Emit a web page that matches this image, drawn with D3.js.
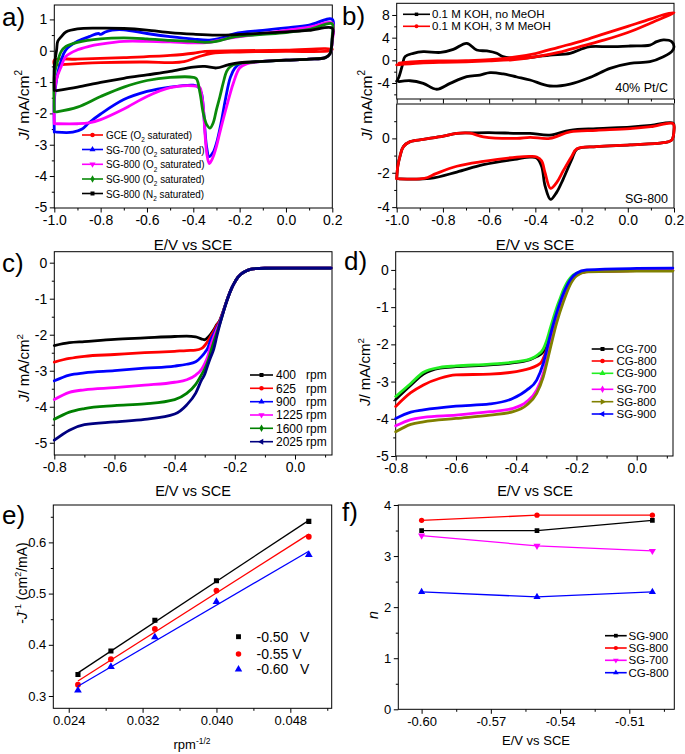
<!DOCTYPE html>
<html><head><meta charset="utf-8">
<script src="https://cdn.jsdelivr.net/npm/d3@7"></script>
<style>
body{margin:0;background:#fff}
svg{display:block;font-family:Arial,"Liberation Sans",sans-serif}
text{white-space:pre}
</style></head><body><svg id="fig" width="685" height="754"></svg>
<script>
// ---------------- DATA ----------------
// Panel a: CV loops [E (V vs SCE), J (mA/cm2)]
const a_GCE = [[-1.0,-0.45],[-1.0,-0.3],[-0.9,-0.27],[-0.7,-0.22],[-0.5,-0.15],[-0.4,-0.08],[-0.35,-0.02],[-0.2,0.0],[0.0,0.02],[0.2,0.05],[0.19,0.0],[0.0,-0.02],[-0.2,-0.04],[-0.32,-0.08],[-0.38,-0.2],[-0.44,-0.35],[-0.5,-0.38],[-0.6,-0.36],[-0.8,-0.38],[-0.99,-0.45]];
const a_SG700 = [[-1.0,-2.6],[-1.0,-1.6],[-0.99,-0.9],[-0.97,-0.3],[-0.95,0.03],[-0.9,0.3],[-0.85,0.45],[-0.81,0.55],[-0.8,0.52],[-0.78,0.6],[-0.75,0.66],[-0.7,0.67],[-0.6,0.55],[-0.5,0.45],[-0.4,0.37],[-0.33,0.34],[-0.28,0.4],[-0.22,0.55],[-0.1,0.65],[0.0,0.73],[0.1,0.82],[0.2,1.0],[0.2,0.4],[0.19,-0.1],[0.17,-0.22],[0.1,-0.27],[0.0,-0.3],[-0.1,-0.34],[-0.2,-0.42],[-0.22,-0.55],[-0.24,-0.85],[-0.26,-1.5],[-0.28,-2.3],[-0.3,-2.95],[-0.315,-3.25],[-0.332,-3.38],[-0.342,-3.1],[-0.35,-2.5],[-0.357,-1.8],[-0.365,-1.35],[-0.38,-1.15],[-0.4,-1.1],[-0.5,-1.16],[-0.6,-1.3],[-0.7,-1.56],[-0.8,-2.02],[-0.85,-2.3],[-0.88,-2.5],[-0.92,-2.6],[-0.99,-2.6]];
const a_SG800 = [[-1.0,-2.33],[-1.0,-1.5],[-0.99,-0.9],[-0.97,-0.5],[-0.95,-0.18],[-0.9,0.03],[-0.85,0.14],[-0.8,0.21],[-0.7,0.3],[-0.6,0.3],[-0.5,0.28],[-0.4,0.25],[-0.33,0.27],[-0.28,0.35],[-0.2,0.45],[-0.1,0.55],[0.0,0.65],[0.1,0.75],[0.2,0.88],[0.2,0.3],[0.19,-0.1],[0.17,-0.22],[0.1,-0.27],[0.0,-0.3],[-0.1,-0.34],[-0.17,-0.42],[-0.2,-0.55],[-0.227,-1.03],[-0.256,-1.78],[-0.285,-2.6],[-0.3,-3.05],[-0.315,-3.4],[-0.331,-3.6],[-0.342,-3.27],[-0.35,-2.6],[-0.357,-1.78],[-0.365,-1.35],[-0.371,-1.18],[-0.4,-1.12],[-0.5,-1.18],[-0.6,-1.46],[-0.7,-1.86],[-0.8,-2.2],[-0.85,-2.3],[-0.9,-2.33],[-0.99,-2.33]];
const a_SG900 = [[-1.0,-1.95],[-1.0,-0.8],[-0.99,-0.45],[-0.97,-0.02],[-0.95,0.14],[-0.9,0.27],[-0.8,0.38],[-0.7,0.41],[-0.6,0.38],[-0.5,0.33],[-0.4,0.3],[-0.35,0.27],[-0.3,0.3],[-0.22,0.45],[-0.1,0.52],[0.0,0.58],[0.1,0.68],[0.2,0.86],[0.2,0.5],[0.19,-0.1],[0.17,-0.22],[0.1,-0.27],[0.0,-0.3],[-0.1,-0.34],[-0.2,-0.4],[-0.227,-0.45],[-0.242,-0.52],[-0.256,-0.66],[-0.271,-1.03],[-0.285,-1.46],[-0.3,-1.88],[-0.314,-2.3],[-0.328,-2.47],[-0.342,-2.36],[-0.357,-1.99],[-0.371,-1.35],[-0.386,-0.9],[-0.4,-0.85],[-0.5,-0.85],[-0.6,-0.95],[-0.7,-1.16],[-0.8,-1.46],[-0.9,-1.8],[-0.99,-1.95]];
const a_SG800N2 = [[-1.0,-1.27],[-1.0,-0.5],[-0.99,0.03],[-0.985,0.3],[-0.97,0.45],[-0.95,0.6],[-0.9,0.7],[-0.8,0.72],[-0.7,0.71],[-0.6,0.66],[-0.5,0.58],[-0.4,0.53],[-0.3,0.5],[-0.2,0.52],[-0.1,0.56],[0.0,0.6],[0.1,0.65],[0.2,0.72],[0.2,0.4],[0.19,-0.1],[0.17,-0.22],[0.1,-0.27],[0.0,-0.3],[-0.1,-0.34],[-0.2,-0.38],[-0.25,-0.45],[-0.3,-0.55],[-0.35,-0.5],[-0.4,-0.52],[-0.5,-0.66],[-0.6,-0.77],[-0.7,-0.88],[-0.8,-1.01],[-0.9,-1.16],[-0.99,-1.27]];
const a_names = ["GCE (O|2| saturated)","SG-700 (O|2| saturated)","SG-800 (O|2| saturated)","SG-900 (O|2| saturated)","SG-800 (N|2| saturated)"];

// Panel b: 40% Pt/C (top) and SG-800 (bottom), without / with MeOH
const b_PtC_KOH = [[-1.0,-3.7],[-0.99,-2.9],[-0.975,-0.8],[-0.964,0.65],[-0.928,1.24],[-0.885,1.53],[-0.81,1.4],[-0.755,1.94],[-0.697,3.0],[-0.654,1.82],[-0.61,1.65],[-0.567,1.24],[-0.54,0.65],[-0.48,0.35],[-0.4,0.6],[-0.337,0.94],[-0.25,1.24],[-0.2,2.0],[-0.163,2.41],[-0.077,2.41],[0.01,2.53],[0.096,2.7],[0.125,3.3],[0.154,3.6],[0.19,3.3],[0.2,2.4],[0.19,1.53],[0.154,0.65],[0.096,-0.24],[0.01,-0.53],[-0.077,-1.41],[-0.163,-3.0],[-0.25,-4.18],[-0.337,-4.53],[-0.423,-3.47],[-0.48,-2.94],[-0.539,-2.4],[-0.596,-2.18],[-0.64,-2.59],[-0.697,-2.88],[-0.769,-4.06],[-0.827,-5.1],[-0.885,-4.06],[-0.942,-3.6],[-0.99,-3.76]];
const b_PtC_MeOH = [[-1.0,-0.8],[-0.9,-0.5],[-0.8,-0.35],[-0.7,-0.25],[-0.6,-0.1],[-0.5,0.1],[-0.4,0.6],[-0.3,1.4],[-0.2,2.5],[-0.1,3.6],[0.0,4.9],[0.1,6.6],[0.2,8.4],[0.15,8.0],[0.1,7.3],[0.0,6.0],[-0.1,4.7],[-0.2,3.4],[-0.3,2.3],[-0.4,1.2],[-0.5,0.5],[-0.6,0.1],[-0.7,-0.05],[-0.8,-0.1],[-0.9,-0.2],[-0.99,-0.5]];
const b_SG800_KOH = [[-1.0,-2.35],[-0.995,-1.6],[-0.985,-1.0],[-0.971,-0.48],[-0.942,-0.19],[-0.885,-0.06],[-0.798,0.13],[-0.74,0.29],[-0.683,0.32],[-0.6,0.34],[-0.48,0.29],[-0.423,0.29],[-0.337,0.19],[-0.25,0.47],[-0.135,0.57],[0.01,0.66],[0.1,0.75],[0.196,0.89],[0.2,0.5],[0.19,-0.1],[0.154,-0.25],[0.01,-0.38],[-0.135,-0.48],[-0.22,-0.63],[-0.243,-1.24],[-0.28,-2.38],[-0.308,-3.14],[-0.334,-3.55],[-0.358,-2.76],[-0.373,-1.62],[-0.394,-1.14],[-0.423,-1.09],[-0.48,-1.2],[-0.625,-1.53],[-0.74,-1.96],[-0.856,-2.33],[-0.99,-2.35]];
const b_SG800_MeOH = [[-1.0,-2.35],[-0.995,-1.6],[-0.985,-1.0],[-0.971,-0.48],[-0.942,-0.19],[-0.885,-0.06],[-0.798,0.13],[-0.74,0.29],[-0.683,0.3],[-0.625,0.09],[-0.48,0.0],[-0.423,0.06],[-0.337,0.0],[-0.25,0.38],[-0.135,0.47],[0.01,0.57],[0.1,0.68],[0.196,0.86],[0.2,0.45],[0.19,-0.1],[0.154,-0.25],[0.01,-0.38],[-0.135,-0.48],[-0.22,-0.6],[-0.243,-1.05],[-0.28,-1.9],[-0.308,-2.57],[-0.334,-2.91],[-0.358,-2.0],[-0.373,-1.3],[-0.394,-1.08],[-0.423,-1.05],[-0.48,-1.09],[-0.625,-1.34],[-0.74,-1.62],[-0.83,-2.05],[-0.88,-2.33],[-0.99,-2.35]];
const b_names = ["0.1 M KOH, no MeOH","0.1 M KOH, 3 M MeOH"];

// Panel c: LSV of SG-800 at different rotation rates
const c_400  = [[-0.8,-2.3],[-0.75,-2.22],[-0.7,-2.19],[-0.6,-2.13],[-0.5,-2.09],[-0.4,-2.05],[-0.36,-2.04],[-0.33,-2.06],[-0.31,-2.12],[-0.3,-2.14],[-0.29,-2.08],[-0.28,-1.98],[-0.27,-1.86],[-0.26,-1.72],[-0.25,-1.6],[-0.24,-1.38],[-0.23,-1.13],[-0.22,-0.9],[-0.21,-0.7],[-0.2,-0.54],[-0.19,-0.41],[-0.18,-0.32],[-0.16,-0.22],[-0.14,-0.17],[-0.1,-0.155],[0.0,-0.15],[0.12,-0.15]];
const c_625  = [[-0.8,-2.76],[-0.75,-2.66],[-0.7,-2.6],[-0.6,-2.55],[-0.5,-2.5],[-0.4,-2.46],[-0.36,-2.44],[-0.33,-2.43],[-0.31,-2.38],[-0.3,-2.3],[-0.29,-2.18],[-0.28,-2.04],[-0.27,-1.9],[-0.26,-1.74],[-0.25,-1.62],[-0.24,-1.39],[-0.23,-1.14],[-0.22,-0.9],[-0.21,-0.7],[-0.2,-0.54],[-0.19,-0.41],[-0.18,-0.32],[-0.16,-0.22],[-0.14,-0.17],[-0.1,-0.155],[0.0,-0.15],[0.12,-0.15]];
const c_900  = [[-0.8,-3.28],[-0.75,-3.12],[-0.7,-3.06],[-0.6,-3.0],[-0.5,-2.93],[-0.4,-2.87],[-0.36,-2.82],[-0.33,-2.75],[-0.31,-2.6],[-0.3,-2.5],[-0.29,-2.37],[-0.28,-2.14],[-0.27,-1.98],[-0.26,-1.8],[-0.25,-1.65],[-0.24,-1.4],[-0.23,-1.14],[-0.22,-0.9],[-0.21,-0.7],[-0.2,-0.54],[-0.19,-0.41],[-0.18,-0.32],[-0.16,-0.22],[-0.14,-0.17],[-0.1,-0.155],[0.0,-0.15],[0.12,-0.15]];
const c_1225 = [[-0.8,-3.8],[-0.75,-3.6],[-0.7,-3.53],[-0.6,-3.47],[-0.5,-3.4],[-0.4,-3.32],[-0.36,-3.25],[-0.33,-3.12],[-0.31,-2.95],[-0.3,-2.8],[-0.29,-2.6],[-0.28,-2.3],[-0.27,-2.06],[-0.26,-1.86],[-0.25,-1.67],[-0.24,-1.41],[-0.23,-1.15],[-0.22,-0.91],[-0.21,-0.7],[-0.2,-0.54],[-0.19,-0.41],[-0.18,-0.32],[-0.16,-0.22],[-0.14,-0.17],[-0.1,-0.155],[0.0,-0.15],[0.12,-0.15]];
const c_1600 = [[-0.8,-4.35],[-0.75,-4.15],[-0.7,-4.05],[-0.6,-3.97],[-0.5,-3.92],[-0.4,-3.8],[-0.36,-3.63],[-0.33,-3.38],[-0.31,-3.1],[-0.3,-2.95],[-0.29,-2.75],[-0.28,-2.48],[-0.27,-2.2],[-0.26,-1.95],[-0.25,-1.7],[-0.24,-1.42],[-0.23,-1.15],[-0.22,-0.91],[-0.21,-0.7],[-0.2,-0.54],[-0.19,-0.41],[-0.18,-0.32],[-0.16,-0.22],[-0.14,-0.17],[-0.1,-0.155],[0.0,-0.15],[0.12,-0.15]];
const c_2025 = [[-0.8,-4.93],[-0.75,-4.65],[-0.7,-4.5],[-0.6,-4.42],[-0.5,-4.35],[-0.4,-4.2],[-0.36,-3.95],[-0.33,-3.62],[-0.31,-3.25],[-0.3,-3.1],[-0.29,-2.85],[-0.28,-2.62],[-0.27,-2.4],[-0.26,-2.05],[-0.25,-1.72],[-0.24,-1.43],[-0.23,-1.15],[-0.22,-0.91],[-0.21,-0.7],[-0.2,-0.54],[-0.19,-0.41],[-0.18,-0.32],[-0.16,-0.22],[-0.14,-0.17],[-0.1,-0.155],[0.0,-0.15],[0.12,-0.15]];
const c_names = ["400   rpm","625   rpm","900   rpm","1225 rpm","1600 rpm","2025 rpm"];

// Panel d: LSV of CG / SG catalysts
const d_CG700 = [[-0.8,-3.48],[-0.75,-3.1],[-0.708,-2.8],[-0.653,-2.64],[-0.6,-2.6],[-0.487,-2.55],[-0.376,-2.46],[-0.332,-2.33],[-0.31,-2.2],[-0.299,-2.0],[-0.288,-1.72],[-0.277,-1.43],[-0.266,-1.16],[-0.254,-0.9],[-0.243,-0.66],[-0.232,-0.45],[-0.221,-0.3],[-0.21,-0.18],[-0.188,-0.07],[-0.155,-0.03],[0.0,-0.02],[0.12,-0.01]];
const d_CG800 = [[-0.8,-3.67],[-0.75,-3.3],[-0.708,-3.09],[-0.653,-2.91],[-0.6,-2.82],[-0.487,-2.8],[-0.376,-2.69],[-0.32,-2.51],[-0.299,-2.15],[-0.288,-1.88],[-0.277,-1.61],[-0.266,-1.3],[-0.254,-0.99],[-0.243,-0.72],[-0.232,-0.49],[-0.221,-0.33],[-0.21,-0.22],[-0.188,-0.09],[-0.15,-0.04],[0.0,-0.02],[0.12,-0.01]];
const d_CG900 = [[-0.8,-3.4],[-0.75,-3.05],[-0.708,-2.75],[-0.653,-2.62],[-0.6,-2.58],[-0.487,-2.53],[-0.376,-2.44],[-0.332,-2.3],[-0.31,-2.12],[-0.299,-1.9],[-0.288,-1.6],[-0.277,-1.3],[-0.266,-1.02],[-0.254,-0.76],[-0.243,-0.53],[-0.232,-0.35],[-0.221,-0.22],[-0.21,-0.13],[-0.188,-0.06],[-0.155,-0.03],[0.0,-0.02],[0.12,-0.02]];
const d_SG700 = [[-0.8,-4.19],[-0.75,-4.02],[-0.708,-3.96],[-0.6,-3.9],[-0.487,-3.81],[-0.41,-3.72],[-0.365,-3.54],[-0.332,-3.23],[-0.31,-2.78],[-0.288,-2.06],[-0.266,-1.34],[-0.243,-0.76],[-0.221,-0.36],[-0.2,-0.13],[-0.166,-0.04],[0.0,-0.02],[0.12,-0.02]];
const d_SG800 = [[-0.8,-4.35],[-0.75,-4.15],[-0.708,-4.08],[-0.6,-3.99],[-0.487,-3.9],[-0.41,-3.81],[-0.365,-3.63],[-0.332,-3.32],[-0.31,-2.87],[-0.288,-2.15],[-0.266,-1.43],[-0.243,-0.85],[-0.221,-0.4],[-0.2,-0.16],[-0.166,-0.05],[0.0,-0.03],[0.12,-0.03]];
const d_SG900 = [[-0.8,-3.99],[-0.75,-3.82],[-0.708,-3.76],[-0.6,-3.66],[-0.487,-3.6],[-0.41,-3.45],[-0.365,-3.23],[-0.332,-2.96],[-0.31,-2.51],[-0.288,-1.79],[-0.266,-1.16],[-0.243,-0.63],[-0.221,-0.27],[-0.2,-0.09],[-0.166,0.0],[0.0,0.04],[0.12,0.05]];
const d_names = ["CG-700","CG-800","CG-900","SG-700","SG-800","SG-900"];

// Panel e: Koutecky-Levich points
const e_x = [0.025, 0.02857, 0.03333, 0.04, 0.05];
const e_050 = [0.342, 0.388, 0.448, 0.525, 0.641];
const e_055 = [0.322, 0.372, 0.431, 0.506, 0.611];
const e_060 = [0.311, 0.357, 0.415, 0.484, 0.576];
const e_names = ["-0.50   V","-0.55 V","-0.60   V"];

// Panel f: electron transfer number n
const f_E = [-0.60, -0.55, -0.50];
const f_SG900 = [3.5, 3.5, 3.7];
const f_SG800 = [3.7, 3.8, 3.8];
const f_SG700 = [3.4, 3.2, 3.1];
const f_CG800 = [2.3, 2.2, 2.3];
const f_names = ["SG-900","SG-800","SG-700","CG-800"];

// Tick values
const tA_x = [-1.0,-0.8,-0.6,-0.4,-0.2,0.0,0.2], tA_xm = [-0.9,-0.7,-0.5,-0.3,-0.1,0.1];
const tA_y = [-5,-4,-3,-2,-1,0,1], tA_ym = [-4.5,-3.5,-2.5,-1.5,-0.5,0.5];
const tB1_y = [-4,0,4,8], tB1_ym = [-6,-2,2,6];
const tB2_y = [-4,-2,0], tB2_ym = [-3,-1,1];
const tC_x = [-0.8,-0.6,-0.4,-0.2,0.0], tC_xm = [-0.7,-0.5,-0.3,-0.1,0.1];
const tC_y = [-5,-4,-3,-2,-1,0], tC_ym = [-4.5,-3.5,-2.5,-1.5,-0.5];
const tE_x = [0.024,0.032,0.040,0.048], tE_xm = [0.028,0.036,0.044,0.052];
const tE_y = [0.3,0.4,0.5,0.6], tE_ym = [0.35,0.45,0.55,0.65];
const tF_x = [-0.60,-0.57,-0.54,-0.51], tF_xm = [-0.585,-0.555,-0.525,-0.495];
const tF_y = [0,1,2,3,4], tF_ym = [0.5,1.5,2.5,3.5];

// ---------------- DRAWING ----------------
const svg = d3.select('#fig');
const FONT = 'Arial, "Liberation Sans", sans-serif';
let clipN = 0;
const fmt = n => v => (Math.abs(v) < 1e-9 ? 0 : v).toFixed(n);

function panel(p) {
  const x = d3.scaleLinear().domain(p.xd).range([p.L, p.R]);
  const y = d3.scaleLinear().domain(p.yd).range([p.B, p.T]);
  const g = svg.append('g');
  const id = 'clip' + (clipN++);
  svg.append('clipPath').attr('id', id).append('rect')
    .attr('x', p.L - 3).attr('y', p.T - 3).attr('width', p.R - p.L + 6).attr('height', p.B - p.T + 6);
  const fs = p.tfs || 14;
  const style = s => {
    s.select('.domain').remove();
    s.attr('font-size', null).attr('font-family', null);
    s.selectAll('line').attr('stroke', '#000');
    s.selectAll('text').attr('fill', '#000').attr('font-size', fs).attr('font-family', FONT);
  };
  const xa = d3.axisBottom(x).tickValues(p.xt).tickSize(4.5).tickPadding(3).tickSizeOuter(0)
    .tickFormat(p.xlab === false ? '' : p.xf);
  g.append('g').attr('transform', `translate(0,${p.B})`).call(xa).call(style);
  g.append('g').attr('transform', `translate(0,${p.B})`)
    .call(d3.axisBottom(x).tickValues(p.xm).tickSize(2.5).tickFormat('').tickSizeOuter(0)).call(style);
  const ya = d3.axisLeft(y).tickValues(p.yt).tickSize(4.5).tickPadding(2.5).tickSizeOuter(0).tickFormat(p.yf);
  g.append('g').attr('transform', `translate(${p.L},0)`).call(ya).call(style);
  g.append('g').attr('transform', `translate(${p.L},0)`)
    .call(d3.axisLeft(y).tickValues(p.ym).tickSize(2.5).tickFormat('').tickSizeOuter(0)).call(style);
  g.append('rect').attr('x', p.L).attr('y', p.T).attr('width', p.R - p.L).attr('height', p.B - p.T)
    .attr('fill', 'none').attr('stroke', '#000').attr('stroke-width', 1);
  const plot = g.append('g').attr('clip-path', `url(#${id})`);
  return { x, y, g, plot };
}

function rich(sel, segs, fs) {
  let shift = 0;
  segs.forEach(s => {
    const t = sel.append('tspan').text(s.t);
    const target = s.sup ? -0.42 * fs : s.sub ? 0.28 * fs : 0;
    if (target - shift !== 0) t.attr('dy', target - shift);
    shift = target;
    if (s.sup || s.sub) t.attr('font-size', fs * 0.65);
    if (s.i) t.attr('font-style', 'italic');
  });
}
function text(x, y, segs, fs, opt = {}) {
  const t = svg.append('text').attr('x', x).attr('y', y).attr('font-size', fs)
    .attr('font-family', FONT).attr('fill', '#000');
  if (opt.anchor) t.attr('text-anchor', opt.anchor);
  if (opt.rot) t.attr('transform', `rotate(-90,${x},${y})`);
  if (opt.sx) t.attr('x', 0).attr('y', 0).attr('transform', `translate(${x},${y}) scale(${opt.sx},1)`);
  rich(t, typeof segs === 'string' ? [{ t: segs }] : segs, fs);
  return t;
}
// "O|2| saturated" -> subscript between bars
function subSegs(s) {
  return s.split('|').map((t, i) => ({ t, sub: i % 2 === 1 }));
}

function symPath(type, size) {
  const map = { square: d3.symbolSquare, circle: d3.symbolCircle, up: d3.symbolTriangle, down: d3.symbolTriangle,
    left: d3.symbolTriangle, right: d3.symbolTriangle, diamond: d3.symbolDiamond, star: d3.symbolStar };
  return d3.symbol().type(map[type]).size(size)();
}
const rotOf = { down: 180, left: -90, right: 90 };
function marker(sel, type, cx, cy, size, color) {
  sel.append('path').attr('d', symPath(type, size))
    .attr('transform', `translate(${cx},${cy}) rotate(${rotOf[type] || 0})`)
    .attr('fill', color).attr('stroke', 'none');
}

const loop = d3.curveCatmullRom.alpha(0.5);
function curve(P, data, color, w, crv) {
  P.plot.append('path').datum(data)
    .attr('d', d3.line().x(d => P.x(d[0])).y(d => P.y(d[1])).curve(crv)(data))
    .attr('fill', 'none').attr('stroke', color).attr('stroke-width', w)
    .attr('stroke-linejoin', 'round').attr('stroke-linecap', 'round');
}
function legendRow(x0, x1, y, type, color, label, fs, tx, msize, sx) {
  svg.append('line').attr('x1', x0).attr('x2', x1).attr('y1', y).attr('y2', y)
    .attr('stroke', color).attr('stroke-width', 1.6);
  marker(svg, type, (x0 + x1) / 2, y, msize || 16, color);
  text(tx, y + fs * 0.36, subSegs(label), fs, sx ? { sx } : {});
}

const JY = [{ t: 'J', i: true }, { t: '/ mA/cm' }, { t: '2', sup: true }];

// ===== Panel a =====
{
  const P = panel({ L: 54.3, T: 5, R: 332.3, B: 208, xd: [-1.0, 0.2], yd: [-5.02, 1.46],
    xt: tA_x, xm: tA_xm, yt: tA_y, ym: tA_ym, xf: fmt(1), yf: fmt(0), tfs: 14 });
  const series = [a_GCE, a_SG700, a_SG800, a_SG900, a_SG800N2];
  const cols = ['#ff0000', '#0000ff', '#ff00ff', '#0a8a0a', '#000000'];
  const syms = ['circle', 'up', 'down', 'diamond', 'square'];
  series.forEach((s, i) => curve(P, s, cols[i], 2.8, loop));
  const rows = [135, 149.5, 164.3, 179, 193.5];
  a_names.forEach((n, i) => legendRow(82, 103, rows[i], syms[i], cols[i], n, 11.5, 106, 16, 0.86));
  text(2, 26, 'a)', 26);
  text(193, 250, 'E/V vs SCE', 15, { anchor: 'middle' });
  text(29, 105, JY, 15.5, { anchor: 'middle', rot: true });
}

// ===== Panel b =====
{
  const P1 = panel({ L: 396.7, T: 3.3, R: 674, B: 99, xd: [-1.0, 0.2], yd: [-6.82, 10.06],
    xt: tA_x, xm: tA_xm, yt: tB1_y, ym: tB1_ym, xf: fmt(1), yf: fmt(0), xlab: false, tfs: 14 });
  curve(P1, b_PtC_KOH, '#000000', 2.8, loop);
  curve(P1, b_PtC_MeOH, '#ff0000', 2.8, loop);
  const P2 = panel({ L: 396.7, T: 104, R: 674, B: 208, xd: [-1.0, 0.2], yd: [-4.05, 2.0],
    xt: tA_x, xm: tA_xm, yt: tB2_y, ym: tB2_ym, xf: fmt(1), yf: fmt(0), tfs: 14 });
  curve(P2, b_SG800_KOH, '#000000', 2.8, loop);
  curve(P2, b_SG800_MeOH, '#ff0000', 2.8, loop);
  legendRow(403, 430, 14.3, 'square', '#000000', b_names[0], 11.5, 432, 12);
  legendRow(403, 430, 26.3, 'circle', '#ff0000', b_names[1], 11.5, 432, 12);
  text(668, 92, '40% Pt/C', 12.5, { anchor: 'end' });
  text(668, 203, 'SG-800', 12.5, { anchor: 'end' });
  text(342, 25, 'b)', 26);
  text(535, 250, 'E/V vs SCE', 15, { anchor: 'middle' });
  text(372, 105, JY, 15.5, { anchor: 'middle', rot: true });
}

// ===== Panel c =====
{
  const P = panel({ L: 54.3, T: 251.7, R: 332, B: 455, xd: [-0.8, 0.123], yd: [-5.34, 0.305],
    xt: tC_x, xm: tC_xm, yt: tC_y, ym: tC_ym, xf: fmt(1), yf: fmt(0), tfs: 14 });
  const series = [c_400, c_625, c_900, c_1225, c_1600, c_2025];
  const cols = ['#000000', '#ff0000', '#0000ff', '#ff00ff', '#008000', '#000080'];
  const syms = ['square', 'circle', 'up', 'down', 'diamond', 'left'];
  series.forEach((s, i) => curve(P, s, cols[i], 2.8, d3.curveMonotoneX));
  const rows = [375, 388.3, 401.7, 415, 428.3, 441.7];
  c_names.forEach((n, i) => legendRow(250, 273, rows[i], syms[i], cols[i], n, 12, 276));
  text(2, 272, 'c)', 26);
  text(193, 496, 'E/V vs SCE', 14.5, { anchor: 'middle' });
  text(29, 368, JY, 15, { anchor: 'middle', rot: true });
}

// ===== Panel d =====
{
  const P = panel({ L: 395.7, T: 251.7, R: 673, B: 456, xd: [-0.8, 0.1205], yd: [-5.0, 0.49],
    xt: tC_x, xm: tC_xm, yt: tC_y, ym: tC_ym, xf: fmt(1), yf: fmt(0), tfs: 14 });
  const series = [d_CG700, d_CG800, d_CG900, d_SG700, d_SG800, d_SG900];
  const cols = ['#000000', '#ff0000', '#22ee22', '#ff00ff', '#808000', '#0000ff'];
  const syms = ['square', 'circle', 'up', 'diamond', 'right', 'left'];
  series.forEach((s, i) => curve(P, s, cols[i], 2.8, d3.curveMonotoneX));
  const rows = [349, 361, 373.3, 389.3, 401.7, 414];
  d_names.forEach((n, i) => legendRow(591.7, 613.3, rows[i], syms[i], cols[i], n, 11.5, 616.5));
  text(344, 270, 'd)', 26);
  text(535, 496, 'E/V vs SCE', 14.5, { anchor: 'middle' });
  text(370, 372, JY, 15, { anchor: 'middle', rot: true });
}

// ===== Panel e =====
{
  const P = panel({ L: 53.3, T: 505, R: 331.7, B: 708.3, xd: [0.02233, 0.05248], yd: [0.276, 0.673],
    xt: tE_x, xm: tE_xm, yt: tE_y, ym: tE_ym, xf: fmt(3), yf: fmt(1), tfs: 13 });
  const series = [e_050, e_055, e_060];
  const cols = ['#000000', '#ff0000', '#0000ff'];
  const syms = ['square', 'circle', 'up'];
  series.forEach((ys, i) => {
    const n = e_x.length, mx = d3.mean(e_x), my = d3.mean(ys);
    const b = d3.sum(e_x, (v, k) => (v - mx) * (ys[k] - my)) / d3.sum(e_x, v => (v - mx) ** 2);
    const a0 = my - b * mx;
    const ends = [e_x[0], e_x[n - 1]];
    P.plot.append('line').attr('x1', P.x(ends[0])).attr('x2', P.x(ends[1]))
      .attr('y1', P.y(a0 + b * ends[0])).attr('y2', P.y(a0 + b * ends[1]))
      .attr('stroke', cols[i]).attr('stroke-width', 1.3);
    ys.forEach((v, k) => marker(P.plot, syms[i], P.x(e_x[k]), P.y(v), 26, cols[i]));
  });
  const rows = [636.7, 654, 669.3];
  e_names.forEach((nm, i) => {
    marker(svg, syms[i], 238.5, rows[i], 24, cols[i]);
    text(256.5, rows[i] + 5, nm, 14);
  });
  text(2, 524, 'e)', 26);
  text(192, 749, [{ t: 'rpm' }, { t: '-1/2', sup: true }], 13, { anchor: 'middle' });
  text(27, 583, [{ t: '-' }, { t: 'J', i: true }, { t: '-1', sup: true }, { t: ' (cm' }, { t: '2', sup: true }, { t: '/mA)' }], 14, { anchor: 'middle', rot: true });
}

// ===== Panel f =====
{
  const P = panel({ L: 398.3, T: 505, R: 674.3, B: 709.3, xd: [-0.6101, -0.4905], yd: [0, 4],
    xt: tF_x, xm: tF_xm, yt: tF_y, ym: tF_ym, xf: fmt(2), yf: fmt(0), tfs: 13 });
  const series = [f_SG900, f_SG800, f_SG700, f_CG800];
  const cols = ['#000000', '#ff0000', '#ff00ff', '#0000ff'];
  const syms = ['square', 'circle', 'down', 'up'];
  series.forEach((ys, i) => {
    const pts = f_E.map((e, k) => [e, ys[k]]);
    curve(P, pts, cols[i], 1.3, d3.curveLinear);
    pts.forEach(d => marker(P.plot, syms[i], P.x(d[0]), P.y(d[1]), 22, cols[i]));
  });
  const rows = [635.7, 648, 660.3, 672.7];
  f_names.forEach((n, i) => legendRow(605, 626.7, rows[i], syms[i], cols[i], n, 11.5, 628.5, 14));
  text(342, 521, 'f)', 26);
  text(536, 745, 'E/V vs SCE', 13, { anchor: 'middle' });
  text(378, 615, [{ t: 'n', i: true }], 14, { anchor: 'middle', rot: true });
}
</script></body></html>
